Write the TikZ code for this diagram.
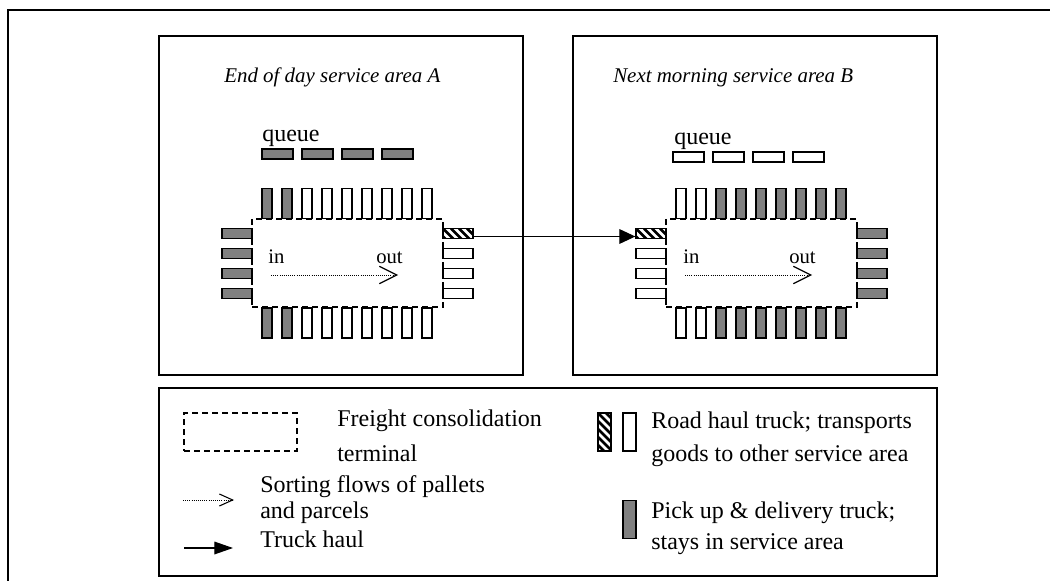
\documentclass[tikz,border=0pt]{standalone}
\usepackage{fontspec}
\setmainfont{Liberation Serif}
\usetikzlibrary{arrows.meta}
\definecolor{pdgrey}{HTML}{808080}

\begin{document}
\begin{tikzpicture}[x=0.75pt,y=-0.75pt,
  frame/.style={draw, line width=1.5pt},
  panel/.style={draw, line width=1.1pt},
  truck/.style={draw, rectangle, inner sep=0pt, line width=0.95pt, fill=white},
  lying/.style={truck, minimum width=22.5pt, minimum height=7.5pt},
  standing/.style={truck, minimum width=7.5pt, minimum height=22.5pt},
  queued/.style={truck, minimum width=23.25pt, minimum height=7.5pt},
  keytruck/.style={truck, minimum width=9.75pt, minimum height=28.5pt},
  pickup/.style={fill=pdgrey},
  roadhaul/.style={fill=white},
  hatched/.style={fill=white, path picture={
      \foreach \k in {-8,...,5}
        \draw[line width=2pt] ([xshift=\k*6pt]path picture bounding box.north west) -- ++(40pt,-40pt);}},
  terminal/.style={draw, dash pattern=on 4.5pt off 3pt, line width=1.3pt, inner sep=0pt},
  flow/.style={densely dotted, line width=0.6pt,
      -{Straight Barb[length=13pt,width=13pt,line width=0.9pt]}},
  haul/.style={line width=0.9pt, -{Triangle[length=12pt,width=11pt]}},
  title/.style={font=\fontsize{15.7}{18}\selectfont\itshape, anchor=base west, inner sep=0pt},
  label/.style={font=\fontsize{18}{20}\selectfont, anchor=base west, inner sep=0pt},
  small/.style={font=\fontsize{15.5}{17}\selectfont, anchor=base west, inner sep=0pt},
]
\useasboundingbox (0,0) rectangle (1050,581);

% outer frame (runs past the right and bottom edges)
\draw[frame] (8,10) rectangle (1080,620);

% the two service areas and the key
\draw[panel] (159,36) rectangle (523,375);
\draw[panel] (573,36) rectangle (937,375);
\draw[panel] (159,388) rectangle (937,576);

% ---------------- service area A ----------------
\node[title] (titleA) at (224,83) {End of day service area A};
\node[terminal, minimum width=143.25pt, minimum height=66pt] (termA) at (347.5,263) {};
\node[label] (queueA) at (262,142) {queue};
\foreach \i in {1,...,4}
  \node[queued,pickup] (A-queue-\i) at ({237.5+40*\i},154) {};
\foreach \s [count=\i] in {pickup,pickup,roadhaul,roadhaul,roadhaul,roadhaul,roadhaul,roadhaul,roadhaul}{
  \node[standing,\s] (A-top-\i) at ({247+20*\i},203.5) {};
  \node[standing,\s] (A-bottom-\i) at ({247+20*\i},323) {};
}
\foreach \i in {1,...,4}
  \node[lying,pickup] (A-left-\i) at (237,{213.5+20*\i}) {};
\foreach \s [count=\i] in {hatched,roadhaul,roadhaul,roadhaul}
  \node[lying,\s] (A-right-\i) at (458,{213.5+20*\i}) {};
\node[small] (inA) at (268,263) {in};
\node[small] (outA) at (376,263) {out};
\coordinate (A-from) at (271,275);
\coordinate (A-to) at (398,275);
\draw[flow] (A-from) -- (A-to);

% ---------------- service area B ----------------
\node[title] (titleB) at (613,83) {Next morning service area B};
\node[terminal, minimum width=143.25pt, minimum height=66pt] (termB) at (761.5,263) {};
\node[label] (queueB) at (674,145) {queue};
\foreach \i in {1,...,4}
  \node[queued,roadhaul] (B-queue-\i) at ({648.5+40*\i},157) {};
\foreach \s [count=\i] in {roadhaul,roadhaul,pickup,pickup,pickup,pickup,pickup,pickup,pickup}{
  \node[standing,\s] (B-top-\i) at ({661+20*\i},203.5) {};
  \node[standing,\s] (B-bottom-\i) at ({661+20*\i},323) {};
}
\foreach \s [count=\i] in {hatched,roadhaul,roadhaul,roadhaul}
  \node[lying,\s] (B-left-\i) at (651,{213.5+20*\i}) {};
\foreach \i in {1,...,4}
  \node[lying,pickup] (B-right-\i) at (872,{213.5+20*\i}) {};
\node[small] (inB) at (683,263) {in};
\node[small] (outB) at (789,263) {out};
\coordinate (B-from) at (685,275);
\coordinate (B-to) at (812,275);
\draw[flow] (B-from) -- (B-to);

% overnight road haul from A to B
\draw[haul] ([yshift=-2.25pt]A-right-1.east) -- ([yshift=-2.25pt]B-left-1.west);

% ---------------- key ----------------
\node[terminal, minimum width=84.75pt, minimum height=28.5pt] (key-term) at (240.5,432) {};
\node[label] (key-term-l1) at (337,426) {Freight consolidation};
\node[label] (key-term-l2) at (337,461) {terminal};

\coordinate (key-flow-a) at (183,500);
\coordinate (key-flow-b) at (234,500);
\draw[flow, -{Straight Barb[length=10pt,width=9pt,line width=0.8pt]}] (key-flow-a) -- (key-flow-b);
\node[label] (key-flow-l1) at (260,492) {Sorting flows of pallets};
\node[label] (key-flow-l2) at (260,518) {and parcels};

\coordinate (key-haul-a) at (184,548);
\coordinate (key-haul-b) at (233,548);
\draw[haul, -{Triangle[length=14pt,width=9.5pt]}] (key-haul-a) -- (key-haul-b);
\node[label] (key-haul-l) at (260,547) {Truck haul};

\node[keytruck,hatched] (key-rh1) at (604.5,432) {};
\node[keytruck,roadhaul] (key-rh2) at (629.5,432) {};
\node[label] (key-rh-l1) at (651,428) {Road haul truck; transports};
\node[label] (key-rh-l2) at (651,461) {goods to other service area};

\node[keytruck,pickup] (key-pd) at (629.5,519.5) {};
\node[label] (key-pd-l1) at (651,518) {Pick up \& delivery truck;};
\node[label] (key-pd-l2) at (651,549) {stays in service area};
\end{tikzpicture}
\end{document}
